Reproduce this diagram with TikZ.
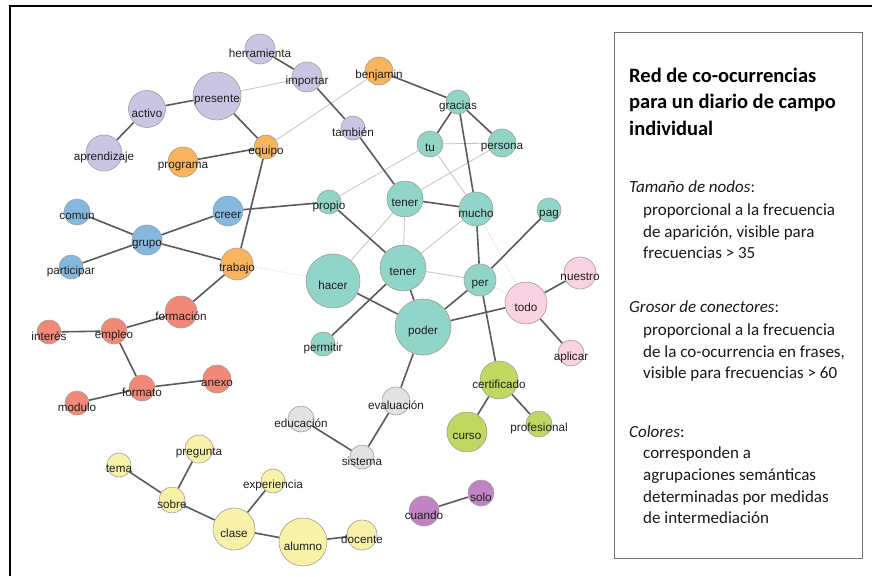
\documentclass[tikz,border=0pt]{standalone}
\usepackage{fontspec}
\setmainfont{Liberation Sans}
\newfontfamily\calib{Carlito}
\usetikzlibrary{backgrounds}

\definecolor{cLav}{HTML}{C9C5E2}
\definecolor{cOra}{HTML}{F9B45E}
\definecolor{cTea}{HTML}{91D4C8}
\definecolor{cPin}{HTML}{F9D3E1}
\definecolor{cGre}{HTML}{C0D862}
\definecolor{cGra}{HTML}{E2E2E2}
\definecolor{cPur}{HTML}{C183C2}
\definecolor{cYel}{HTML}{F8F2A8}
\definecolor{cBlu}{HTML}{84B8DE}
\definecolor{cRed}{HTML}{F28878}
\definecolor{edgeDark}{HTML}{5A5A5A}
\definecolor{edgeLight}{HTML}{C4C4C4}

\tikzset{
  wnode/.style={circle, draw=black!38, line width=0.6pt, inner sep=0pt},
  lbl/.style={font=\fontsize{11.7}{13}\selectfont, text=black!88, inner sep=0pt, anchor=base, yshift=-4.1pt},
  strong/.style={draw=edgeDark, line width=1.6pt},
  weak/.style={draw=edgeLight, line width=0.8pt},
  faint/.style={draw=edgeLight, line width=0.8pt, dotted},
  legline/.style={anchor=base west, inner sep=0pt, font=\calib\fontsize{17}{20}\selectfont, text=black!90},
  legtitle/.style={anchor=base west, inner sep=0pt, font=\calib\bfseries\fontsize{20.5}{24}\selectfont},
}

% name, label, x, y, r, colour
\newcommand{\wrd}[6]{\node[wnode, fill=#6, minimum size={2*#5pt}, label={[lbl]center:#2}] (#1) at (#3,-#4) {};}

\begin{document}
\begin{tikzpicture}[x=1pt,y=1pt]
\useasboundingbox (0,0) rectangle (872,-576);

% frame
\draw[line width=1.6pt, black] (10,-576) -- (10,-6) -- (872,-6);

% lavender
\wrd{herramienta}{herramienta}{260}{49}{15}{cLav}
\wrd{importar}{importar}{307}{77}{15}{cLav}
\wrd{presente}{presente}{217}{96}{24}{cLav}
\wrd{activo}{activo}{147}{109}{18.5}{cLav}
\wrd{aprendizaje}{aprendizaje}{104}{153}{18}{cLav}
\wrd{tambien}{también}{353}{128}{12}{cLav}
% orange
\wrd{benjamin}{benjamin}{379}{71}{14}{cOra}
\wrd{equipo}{equipo}{266}{147}{12}{cOra}
\wrd{programa}{programa}{183}{162}{15}{cOra}
\wrd{trabajo}{trabajo}{237}{264}{16}{cOra}
% teal
\wrd{gracias}{gracias}{458}{102}{12}{cTea}
\wrd{tu}{tu}{430}{144}{13}{cTea}
\wrd{persona}{persona}{502}{143}{14}{cTea}
\wrd{tenerA}{tener}{405}{199}{18}{cTea}
\wrd{mucho}{mucho}{476}{209}{17}{cTea}
\wrd{propio}{propio}{329}{202}{12}{cTea}
\wrd{pag}{pag}{549}{210}{12}{cTea}
\wrd{hacer}{hacer}{333}{281}{27}{cTea}
\wrd{tenerB}{tener}{403}{268}{23}{cTea}
\wrd{per}{per}{480}{280}{16}{cTea}
\wrd{poder}{poder}{423}{327}{28}{cTea}
\wrd{permitir}{permitir}{323}{344}{12}{cTea}
% pink
\wrd{nuestro}{nuestro}{580}{273}{16}{cPin}
\wrd{todo}{todo}{526}{303}{21}{cPin}
\wrd{aplicar}{aplicar}{571}{353}{13}{cPin}
% green
\wrd{certificado}{certificado}{499}{380}{19}{cGre}
\wrd{curso}{curso}{467}{432}{20}{cGre}
\wrd{profesional}{profesional}{539}{424}{13}{cGre}
% grey
\wrd{evaluacion}{evaluación}{396}{401}{14}{cGra}
\wrd{educacion}{educación}{301}{419}{13}{cGra}
\wrd{sistema}{sistema}{362}{457}{12}{cGra}
% purple
\wrd{solo}{solo}{481}{493}{13}{cPur}
\wrd{cuando}{cuando}{424}{511}{15}{cPur}
% yellow
\wrd{pregunta}{pregunta}{199}{449}{14}{cYel}
\wrd{tema}{tema}{119}{465}{12}{cYel}
\wrd{sobre}{sobre}{172}{500}{13}{cYel}
\wrd{experiencia}{experiencia}{273}{481}{12}{cYel}
\wrd{clase}{clase}{234}{529}{21}{cYel}
\wrd{alumno}{alumno}{303}{542}{24}{cYel}
\wrd{docente}{docente}{362}{535}{15}{cYel}
% blue
\wrd{comun}{comun}{77}{212}{13}{cBlu}
\wrd{grupo}{grupo}{147}{240}{15}{cBlu}
\wrd{participar}{participar}{71}{267}{12}{cBlu}
\wrd{creer}{creer}{228}{211}{15}{cBlu}
% red
\wrd{formacion}{formación}{181}{312}{16}{cRed}
\wrd{interes}{interés}{49}{332}{12}{cRed}
\wrd{empleo}{empleo}{114}{331}{13}{cRed}
\wrd{formato}{formato}{142}{388}{13}{cRed}
\wrd{anexo}{anexo}{217}{379}{14}{cRed}
\wrd{modulo}{modulo}{77}{403}{12}{cRed}

\begin{pgfonlayer}{background}
  \fill[white] (0,0) rectangle (872,-576);
  % weak edges
  \draw[weak] (presente) -- (importar);
  \draw[weak] (equipo) -- (benjamin);
  \draw[weak] (tu) -- (persona);
  \draw[weak] (tu) -- (propio);
  \draw[weak] (tu) -- (mucho);
  \draw[weak] (persona) -- (tenerA);
  \draw[weak] (tenerA) -- (tenerB);
  \draw[weak] (tenerA) -- (hacer);
  \draw[weak] (mucho) -- (tenerB);
  \draw[weak] (tenerB) -- (per);
  % dotted edges
  \draw[faint] (trabajo) -- (hacer);
  \draw[faint] (mucho) -- (todo);
  \draw[faint] (per) -- (todo);
  % strong edges
  \draw[strong] (herramienta) -- (importar);
  \draw[strong] (presente) -- (activo);
  \draw[strong] (activo) -- (aprendizaje);
  \draw[strong] (presente) -- (equipo);
  \draw[strong] (programa) -- (equipo);
  \draw[strong] (equipo) -- (trabajo);
  \draw[strong] (importar) -- (tambien);
  \draw[strong] (tambien) -- (tenerA);
  \draw[strong] (benjamin) -- (gracias);
  \draw[strong] (gracias) -- (tu);
  \draw[strong] (gracias) -- (persona);
  \draw[strong] (gracias) -- (mucho);
  \draw[strong] (tenerA) -- (mucho);
  \draw[strong] (creer) -- (propio);
  \draw[strong] (propio) -- (tenerB);
  \draw[strong] (mucho) -- (per);
  \draw[strong] (per) -- (pag);
  \draw[strong] (per) -- (poder);
  \draw[strong] (per) -- (certificado);
  \draw[strong] (hacer) -- (poder);
  \draw[strong] (tenerB) -- (permitir);
  \draw[strong] (tenerB) -- (poder);
  \draw[strong] (poder) -- (todo);
  \draw[strong] (todo) -- (nuestro);
  \draw[strong] (todo) -- (aplicar);
  \draw[strong] (poder) -- (evaluacion);
  \draw[strong] (evaluacion) -- (sistema);
  \draw[strong] (educacion) -- (sistema);
  \draw[strong] (certificado) -- (curso);
  \draw[strong] (certificado) -- (profesional);
  \draw[strong] (grupo) -- (comun);
  \draw[strong] (grupo) -- (participar);
  \draw[strong] (grupo) -- (creer);
  \draw[strong] (grupo) -- (trabajo);
  \draw[strong] (trabajo) -- (formacion);
  \draw[strong] (formacion) -- (empleo);
  \draw[strong] (empleo) -- (interes);
  \draw[strong] (empleo) -- (formato);
  \draw[strong] (formato) -- (modulo);
  \draw[strong] (formato) -- (anexo);
  \draw[strong] (tema) -- (sobre);
  \draw[strong] (pregunta) -- (sobre);
  \draw[strong] (sobre) -- (clase);
  \draw[strong] (clase) -- (experiencia);
  \draw[strong] (clase) -- (alumno);
  \draw[strong] (alumno) -- (docente);
  \draw[strong] (cuando) -- (solo);
\end{pgfonlayer}

% legend
\node[draw=black!55, line width=0.9pt, minimum width=248pt, minimum height=526pt, anchor=north west, inner sep=0pt] (legend) at (614,-32) {};
\node[legtitle] (t1) at (629,-82) {Red de co-ocurrencias};
\node[legtitle] (t2) at (629,-108.5) {para un diario de campo};
\node[legtitle] (t3) at (629,-135) {individual};
\node[legline] (a0) at (629,-192) {\itshape Tamaño de nodos\upshape:};
\node[legline] (a1) at (643,-215) {proporcional a la frecuencia};
\node[legline] (a2) at (643,-237) {de aparición, visible para};
\node[legline] (a3) at (643,-258.5) {frecuencias > 35};
\node[legline] (b0) at (629,-312) {\itshape Grosor de conectores\upshape:};
\node[legline] (b1) at (643,-335) {proporcional a la frecuencia};
\node[legline] (b2) at (643,-357) {de la co-ocurrencia en frases,};
\node[legline] (b3) at (643,-378.5) {visible para frecuencias > 60};
\node[legline] (c0) at (629,-437) {\itshape Colores\upshape:};
\node[legline] (c1) at (643,-458) {corresponden a};
\node[legline] (c2) at (643,-480) {agrupaciones semánticas};
\node[legline] (c3) at (643,-502) {determinadas por medidas};
\node[legline] (c4) at (643,-523.5) {de intermediación};
\end{tikzpicture}
\end{document}
